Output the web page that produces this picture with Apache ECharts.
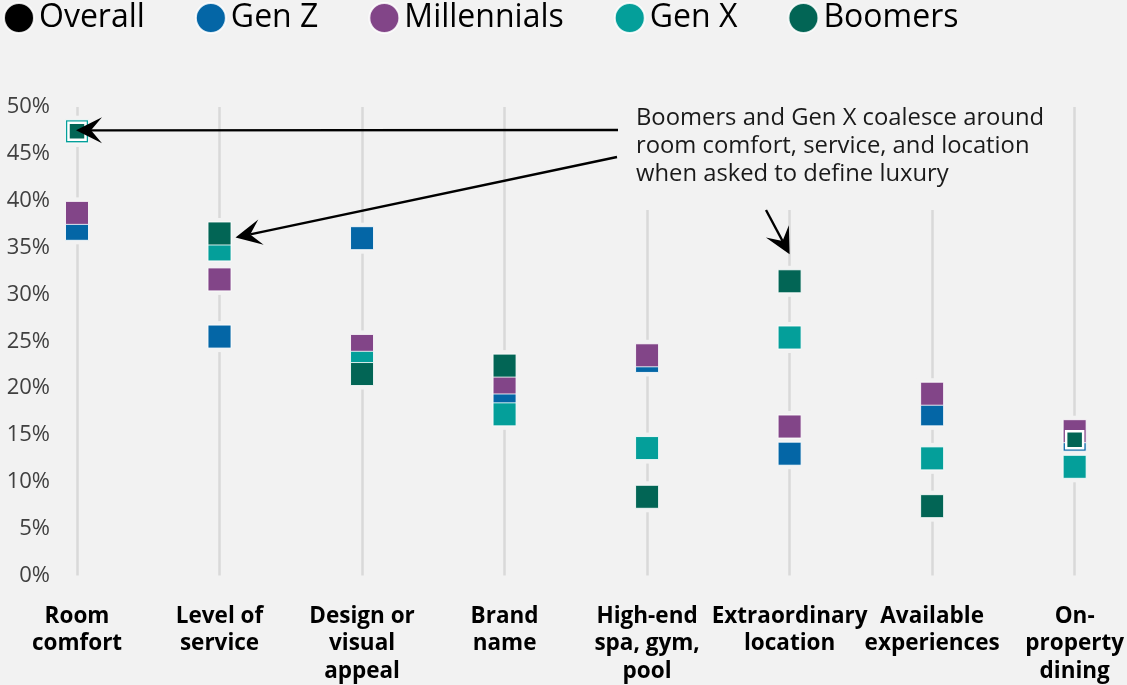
<!DOCTYPE html>
<html>
<head>
<meta charset="utf-8">
<script src="https://cdn.jsdelivr.net/npm/echarts@6/dist/echarts.min.js"></script>
<style>
  html, body { margin: 0; padding: 0; background: #f2f2f2; }
  #chart { width: 1127px; height: 685px; }
</style>
</head>
<body>
<div id="chart"></div>
<script>
// categories and share (%) of each generation naming it as part of luxury
var categories = ['Room\ncomfort', 'Level of\nservice', 'Design or\nvisual\nappeal', 'Brand\nname',
  'High-end\nspa, gym,\npool', 'Extraordinary\nlocation', 'Available\nexperiences', 'On-\nproperty\ndining'];
var overall = [];   // hidden behind the generation markers in the original
var genZ        = [37.0, 25.5, 36.0, 19.0, 22.9, 13.0, 17.2, 14.5];
var millennials = [38.7, 31.6, 24.5, 20.6, 23.5, 15.9, 19.4, 15.4];
var genX        = [47.4, 34.8, 22.7, 17.2, 13.6, 25.4, 12.5, 11.6];
var boomers     = [47.4, 36.5, 21.5, 22.4, 8.4, 31.4, 7.4, 14.5];
var yTicks = [0, 5, 10, 15, 20, 25, 30, 35, 40, 45, 50];

var colors = { overall: '#000000', genZ: '#0466a6', mill: '#824588', genX: '#049f9a', boom: '#026555' };
var bg = '#f2f2f2';

var chart = echarts.init(document.getElementById('chart'));

function pts(arr) {
  return arr.map(function (v, i) { return [i, v]; });
}

// background coloured square behind each marker -> gap in the vertical lines
function halo(arr) {
  return {
    type: 'scatter', silent: true, symbol: 'rect', symbolSize: 31, z: 1,
    itemStyle: { color: bg, opacity: 1 }, data: pts(arr)
  };
}

function markers(name, arr, color) {
  return {
    name: name, type: 'scatter', symbol: 'rect', symbolSize: 23, z: 2,
    itemStyle: { color: color, opacity: 1, borderColor: 'rgba(255,255,255,0.85)', borderWidth: 1 },
    data: pts(arr)
  };
}

// boomers overlapping another series are drawn as a smaller framed square
var boomData = pts(boomers).map(function (p, i) {
  if (i === 0 || i === 7) {
    return { value: p, symbolSize: 17, itemStyle: { borderColor: '#fff', borderWidth: 2.5 } };
  }
  return p;
});

var option = {
  backgroundColor: bg,
  animation: false,
  textStyle: { fontFamily: 'Open Sans' },
  legend: {
    left: 3, top: 2, padding: 0,
    icon: 'circle', itemWidth: 30, itemHeight: 30, itemGap: 50,
    textStyle: { fontSize: 32, color: '#000', fontFamily: 'Open Sans' },
    data: ['Overall', 'Gen Z', 'Millennials', 'Gen X', 'Boomers']
  },
  grid: { left: 77, right: 52, top: 107, bottom: 108 },
  xAxis: {
    type: 'category',
    data: categories,
    boundaryGap: false,
    axisLine: { show: false },
    axisTick: { show: false },
    splitLine: { show: true, lineStyle: { color: '#d9d9d9', width: 2.5 } },
    axisLabel: {
      interval: 0, margin: 27, fontSize: 22.5, lineHeight: 27.5,
      fontWeight: 'bold', color: '#000', fontFamily: 'Open Sans'
    }
  },
  yAxis: {
    type: 'value',
    min: yTicks[0], max: yTicks[yTicks.length - 1], interval: 5,
    axisLine: { show: false },
    axisTick: { show: false },
    splitLine: { show: false },
    axisLabel: { formatter: '{value}%', fontSize: 22, color: '#404040', margin: 27, fontFamily: 'Open Sans' }
  },
  series: [
    halo(genZ), halo(millennials), halo(genX), halo(boomers),
    markers('Overall', overall, colors.overall),
    markers('Gen Z', genZ, colors.genZ),
    markers('Millennials', millennials, colors.mill),
    markers('Gen X', genX, colors.genX),
    {
      name: 'Boomers', type: 'scatter', symbol: 'rect', symbolSize: 23, z: 2,
      itemStyle: { color: colors.boom, opacity: 1, borderColor: 'rgba(255,255,255,0.85)', borderWidth: 1 },
      data: boomData
    }
  ]
};
chart.setOption(option);

// annotation arrows: tip anchored on data points
function arrow(from, tip) {
  var dx = tip[0] - from[0], dy = tip[1] - from[1];
  var len = Math.sqrt(dx * dx + dy * dy);
  var ux = dx / len, uy = dy / len, nx = -uy, ny = ux;
  var hl = 26, hw = 13, notch = 15;
  var back = [tip[0] - ux * hl, tip[1] - uy * hl];
  var inner = [tip[0] - ux * notch, tip[1] - uy * notch];
  return [
    { type: 'line', z: 110, shape: { x1: from[0], y1: from[1], x2: inner[0], y2: inner[1] },
      style: { stroke: '#000', lineWidth: 2.4 } },
    { type: 'polygon', z: 111, shape: { points: [
      tip, [back[0] + nx * hw, back[1] + ny * hw], inner, [back[0] - nx * hw, back[1] - ny * hw]
    ] }, style: { fill: '#000' } }
  ];
}

var pRoom = chart.convertToPixel({ gridIndex: 0 }, [0, boomers[0]]);
var pServ = chart.convertToPixel({ gridIndex: 0 }, [1, boomers[1]]);
var pLoc = chart.convertToPixel({ gridIndex: 0 }, [5, boomers[5]]);

var graphics = [
  { type: 'rect', z: 100, shape: { x: 626, y: 96, width: 430, height: 114 }, style: { fill: bg } },
  { type: 'text', z: 101, left: 636, top: 104,
    style: { text: 'Boomers and Gen X coalesce around\nroom comfort, service, and location\nwhen asked to define luxury',
      font: '23.8px "Open Sans"', lineHeight: 28, fill: '#1a1a1a' } }
];
graphics = graphics
  .concat(arrow([618, 130], [pRoom[0] - 1, pRoom[1] - 1]))
  .concat(arrow([617, 157], [pServ[0] + 16, pServ[1] + 4]))
  .concat(arrow([766, 210], [pLoc[0], pLoc[1] - 27]));

chart.setOption({ graphic: graphics });
</script>
</body>
</html>
